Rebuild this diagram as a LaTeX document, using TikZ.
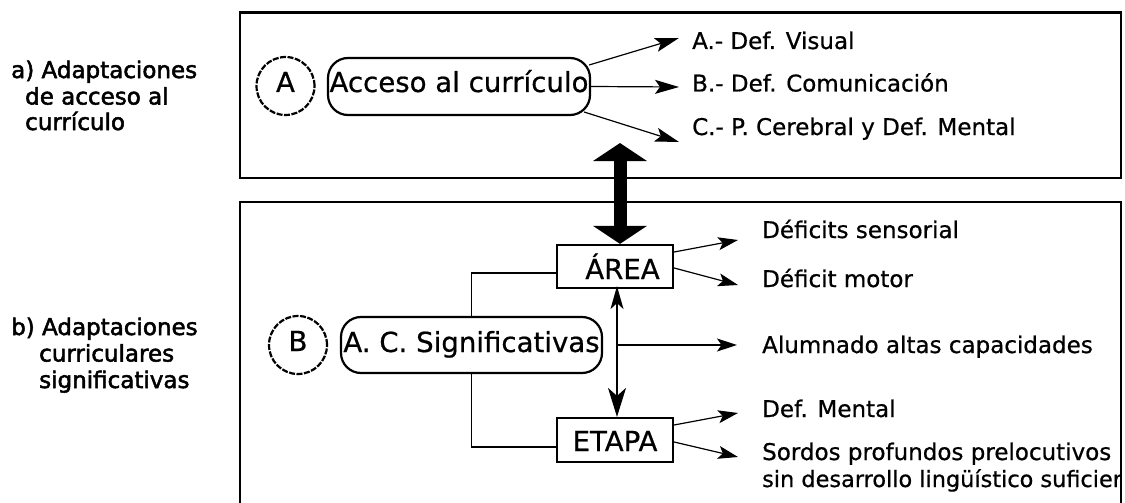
\documentclass[tikz,border=0pt]{standalone}
\usepackage{fontspec}
\setmainfont{DejaVu Sans}[RawFeature={embolden=0.7}]
\newfontfamily\lblfont{DejaVu Sans}[RawFeature={embolden=2.2}]
\usetikzlibrary{arrows.meta,calc}
\begin{document}
\begin{tikzpicture}[x=1pt,y=-1pt,
  txt/.style={font=\fontsize{23}{26}\selectfont, inner sep=0pt, anchor=base west},
  lbl/.style={font=\lblfont\fontsize{23}{26}\selectfont, inner sep=0pt, anchor=base west},
  big/.style={font=\fontsize{27.6}{30}\selectfont},
  frame/.style={line width=2.5pt},
  pill/.style={draw, line width=2.2pt, rounded corners=20pt, inner sep=0pt, big},
  dcirc/.style={circle, draw, line width=2.2pt, dash pattern=on 6pt off 1.5pt, inner sep=0pt, minimum size=58pt, big},
  sbox/.style={draw, line width=2.2pt, rectangle, inner sep=0pt, minimum width=116pt, minimum height=43pt, big},
  thin/.style={line width=1.2pt},
  arr/.style={thin, -{Stealth[length=24pt,width=14pt,inset=5pt]}},
  arrs/.style={thin, -{Stealth[length=20pt,width=13pt,inset=4.5pt]}},
]
\useasboundingbox (0,0) rectangle (1125,503);

% frames
\draw[frame] (240,12.5) rectangle (1121,178);
\draw[frame] (240,504) -- (240,202) -- (1121,202) -- (1121,504);

% left labels
\node[lbl] (a1) at (11,78) {a) Adaptaciones};
\node[lbl] (a2) at (25,104.5) {de acceso al};
\node[lbl] (a3) at (25,130) {currículo};
\node[lbl] (b1) at (11,335) {b) Adaptaciones};
\node[lbl] (b2) at (39,361.5) {curriculares};
\node[lbl] (b3) at (39,388) {significativas};

% main nodes
\node[dcirc, text height=20pt, text depth=8pt] (cA) at (285.5,86) {A};
\node[pill, minimum width=262pt, minimum height=57pt, text height=20pt, text depth=9pt] (acc) at (459,86.5) {Acceso al currículo};
\node[dcirc, text height=20pt, text depth=8pt] (cB) at (298,345) {B};
\node[pill, minimum width=261pt, minimum height=56pt, text height=20pt, text depth=6pt] (sig) at (471.5,345) {A. C. Significativas};
\node[sbox, text height=26pt, text depth=1pt] (area) at (615,266.5) {\hspace*{15pt}ÁREA};
\node[sbox, minimum height=44pt, text height=24pt, text depth=2pt] (etapa) at (615,440) {ETAPA};

% right labels
\node[txt] (la) at (692,49) {A.- Def. Visual};
\node[txt] (lb) at (692,91.5) {B.- Def. Comunicación};
\node[txt] (lc) at (692,135) {C.- P. Cerebral y Def. Mental};
\node[txt] (l1) at (762,238) {Déficits sensorial};
\node[txt] (l2) at (762,287) {Déficit motor};
\node[txt] (l3) at (762,353) {Alumnado altas capacidades};
\node[txt] (l4) at (762,417) {Def. Mental};
\node[txt] (l5) at (762,460) {Sordos profundos prelocutivos};
\begin{scope}
\clip (0,0) rectangle (1120,503);
\node[txt, font=\fontsize{22.4}{26}\selectfont] (l6) at (762,487) {sin desarrollo lingüístico suficiente};
\end{scope}

% top arrows
\coordinate (ea) at (679,38);
\coordinate (eb) at (679,87);
\coordinate (ec) at (679,142);
\draw[arr] ($(acc.east)+(-2,-21.5)$) -- (ea);
\draw[arr] (acc.east) -- (eb);
\draw[arr] ($(acc.east)+(-7,25.5)$) -- (ec);

% thick double arrow
\coordinate (bt) at (620,143);
\draw[line width=13pt, {Triangle[length=18pt,width=53pt]}-{Triangle[length=18pt,width=53pt]}] (bt) -- ($(area.north)+(5,0)$);

% bottom connectors
\draw[thin] ($(area.west)+(0,6.5)$) -| (sig.north);
\draw[thin] (sig.south) |- ($(etapa.west)+(0,7)$);
\draw[thin, {Stealth[length=23pt,width=13pt,inset=6pt]}-{Stealth[length=29pt,width=18pt,inset=8pt]}] ($(area.south)+(2,-3)$) -- ($(etapa.north)+(2,0)$);
\coordinate (e3) at (737,345);
\draw[arrs] ($(sig.east)+(15,0)$) -- (e3);
\coordinate (e1) at (738,240);
\coordinate (e2) at (738,285);
\draw[arrs] ($(area.east)+(0,-14.5)$) -- (e1);
\draw[arrs] ($(area.east)+(0,1.5)$) -- (e2);
\coordinate (e4) at (738,413);
\coordinate (e5) at (738,457);
\draw[arrs] ($(etapa.east)+(0,-15)$) -- (e4);
\draw[arrs] ($(etapa.east)+(0,2)$) -- (e5);
\end{tikzpicture}
\end{document}
